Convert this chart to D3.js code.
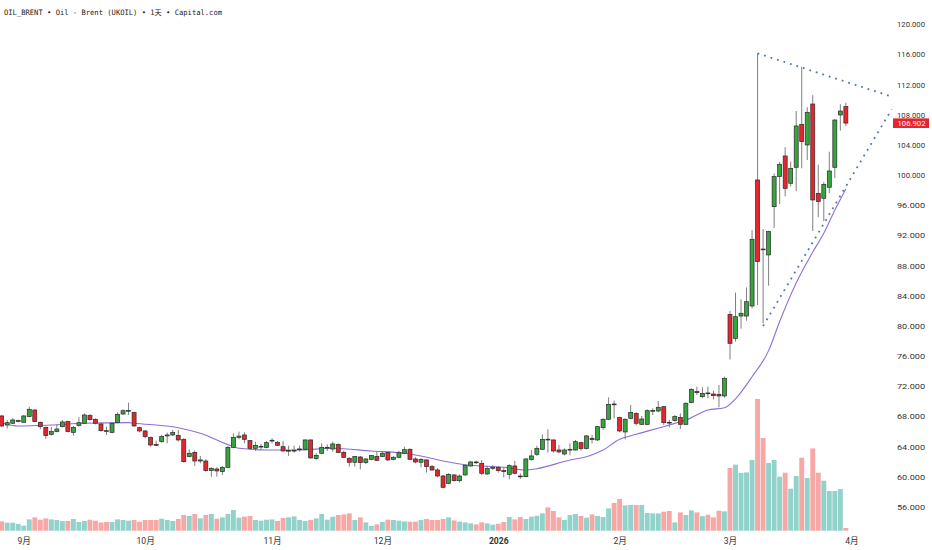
<!DOCTYPE html>
<html>
<head>
<meta charset="utf-8">
<script src="https://cdn.jsdelivr.net/npm/d3@7"></script>
<style>
  html, body { margin: 0; padding: 0; background: #fff; }
  svg { display: block; }
  .axis text { font-family: Roboto, "Noto Sans", sans-serif; fill: #333; }
  .axis path, .axis line { display: none; }
</style>
</head>
<body>
<div id="plot"></div>
<script>
// daily bars, Aug 26 2025 .. Mar 31 2026
const opens = [68.07,66.87,67.10,67.32,67.23,67.98,68.86,67.23,66.56,65.64,65.99,66.65,67.32,65.90,66.83,67.10,68.16,67.63,67.01,66.12,
  65.90,67.18,68.33,68.77,68.51,66.52,66.08,65.24,64.31,64.67,65.42,65.55,65.50,64.98,62.68,63.25,62.10,62.10,60.82,61.04,
  60.69,61.26,63.91,65.24,65.55,64.80,63.78,64.00,63.91,64.80,64.58,64.00,63.47,63.47,63.65,63.65,64.89,62.41,63.12,63.87,
  63.69,64.27,63.25,62.46,61.93,62.63,61.88,62.32,62.72,62.68,63.21,62.32,62.59,63.12,63.65,62.37,61.93,62.24,61.35,60.91,
  60.11,59.14,60.25,59.49,60.25,61.44,61.97,61.79,60.38,61.20,61.22,60.82,60.33,61.44,60.11,60.02,62.32,62.99,63.65,64.99,
  64.89,63.56,63.03,63.62,63.56,64.53,63.74,65.11,64.89,66.52,67.63,69.66,67.85,65.95,67.76,68.42,66.96,66.96,68.77,68.73,
  69.30,67.23,67.45,67.89,66.96,69.84,71.30,70.63,71.12,70.98,70.94,70.72,81.54,78.36,81.32,81.32,82.65,99.36,90.20,89.42,
  95.82,99.80,102.54,98.92,101.04,106.74,104.00,109.43,97.59,96.93,98.39,101.04,107.98,109.08];
const highs = [68.20,67.54,67.76,67.60,68.20,69.30,68.95,67.32,66.65,66.65,66.96,67.54,67.45,66.74,67.89,68.42,68.29,67.76,67.18,66.65,
  67.23,68.55,68.95,69.84,68.64,66.65,66.21,65.33,64.80,65.55,65.86,66.21,66.21,65.11,63.65,63.47,62.77,62.32,61.26,61.26,
  61.44,64.09,65.77,65.99,65.90,64.89,64.66,64.36,64.75,65.11,64.75,64.75,64.13,64.13,64.13,64.97,64.95,63.12,64.44,64.31,
  64.66,64.44,63.47,62.59,62.77,62.77,62.46,62.90,63.30,63.43,63.34,62.77,63.47,64.00,63.78,62.59,62.46,62.32,61.57,61.13,
  60.25,60.47,60.33,60.33,61.66,62.10,62.15,62.23,61.48,61.57,61.44,61.26,61.66,62.10,60.47,62.46,63.56,64.13,65.64,66.30,
  64.97,64.22,63.78,64.44,64.89,64.66,65.55,65.55,66.74,67.76,70.54,70.10,67.98,67.76,69.53,68.55,68.07,68.95,69.08,70.06,
  69.39,67.54,68.20,68.42,69.88,71.74,71.96,71.87,71.96,71.42,72.17,73.28,81.98,84.42,83.54,85.12,92.73,116.15,92.86,92.60,
  100.20,101.75,103.70,101.80,108.50,114.38,109.00,110.60,101.40,99.10,103.10,107.40,109.40,109.60];
const lows = [66.60,66.43,67.01,67.20,67.20,67.89,67.23,66.30,65.02,65.46,65.90,66.56,65.90,65.46,66.65,67.01,67.49,66.96,65.99,65.55,
  65.77,67.10,68.20,68.20,66.65,65.90,65.11,64.00,64.09,64.53,64.44,65.42,64.67,61.88,62.59,61.44,61.79,60.69,60.02,60.02,
  60.25,61.13,63.78,64.97,64.44,63.56,63.43,63.56,63.78,64.44,64.09,63.34,62.77,63.21,63.34,63.47,62.41,62.24,63.03,63.43,
  63.34,63.12,62.50,61.35,61.35,61.00,61.70,62.19,62.10,62.59,62.10,62.19,62.46,62.99,62.24,61.79,61.26,60.56,60.78,59.94,
  58.48,59.05,59.36,59.23,60.16,61.35,61.70,60.25,60.25,60.91,60.56,59.94,59.67,60.33,59.72,59.94,62.14,62.77,63.56,63.21,
  63.21,63.12,62.85,62.90,63.47,63.47,63.65,64.44,64.75,66.21,67.54,67.76,65.90,64.97,67.63,66.79,66.88,66.88,68.20,68.55,
  66.88,66.56,67.32,66.34,66.88,69.75,70.85,70.41,70.41,70.27,69.21,70.50,75.55,77.92,79.64,80.69,82.34,82.78,80.35,85.34,
  93.00,96.18,97.20,98.50,97.90,100.90,102.00,92.60,94.40,93.90,97.60,99.60,105.90,106.50];
const closes = [66.74,67.18,67.54,67.45,68.07,68.95,67.32,66.65,65.46,65.99,66.34,67.27,65.99,66.56,67.18,68.20,67.58,67.10,66.12,66.10,
  67.10,68.29,68.77,68.80,66.74,66.08,65.33,64.22,64.18,65.33,65.55,65.86,64.89,62.01,63.12,62.10,62.24,60.82,61.13,60.78,
  61.26,63.91,65.24,65.40,64.97,63.78,64.18,64.05,64.53,64.85,64.18,63.43,63.50,63.52,63.70,64.89,62.50,62.85,63.91,63.91,
  64.36,63.21,62.59,61.93,62.68,61.88,62.37,62.81,62.19,63.12,62.24,62.59,63.21,63.60,62.32,61.97,62.32,61.35,60.91,60.11,
  58.61,60.33,59.49,60.11,61.53,61.97,61.92,60.47,61.13,61.24,60.82,60.69,61.48,60.47,60.07,62.37,62.77,63.78,64.97,64.97,
  63.43,63.30,63.56,63.65,64.66,63.74,65.42,64.93,66.65,67.63,69.61,69.62,66.08,67.63,68.55,67.10,67.67,68.77,68.80,69.22,
  67.18,67.20,67.98,66.96,69.75,71.60,71.16,71.07,71.07,70.76,70.72,73.06,77.70,81.23,81.68,83.22,91.49,88.53,90.15,92.51,
  99.80,101.44,98.25,100.90,106.52,104.44,108.33,96.71,96.49,98.78,100.55,107.31,108.50,106.902];
const volumes = [93,80,80,67,50,113,133,110,123,113,107,97,97,117,87,97,110,100,83,87,
  87,113,107,100,107,90,107,107,107,120,107,97,117,157,147,167,123,157,167,120,
  133,167,207,130,140,147,107,100,110,113,97,127,133,143,107,97,107,123,167,110,
  140,157,163,173,107,133,83,47,63,87,110,107,100,93,90,90,107,117,107,107,
  117,133,103,90,83,73,63,83,73,60,70,87,137,113,137,117,140,150,173,233,
  197,133,107,157,167,147,130,163,147,137,223,277,317,253,257,257,257,177,173,173,
  190,197,83,183,157,203,183,145,160,133,200,193,627,660,577,583,707,1317,927,677,
  707,540,580,420,547,730,527,823,580,500,397,397,417,27];

// moving average line, sampled off the chart (bar number, value)
const maBars = [1,4,10,16,24,25,33,37,43,44,49,55,61,68,74,77,81,85,92,96,98,104,107,110,113,116,122,125,129,132,134,137,140,142,145,148,150,152,154];
const maValues = [67.18,66.74,66.87,67.10,67.18,67.10,66.51,65.77,64.00,63.78,63.56,63.56,63.78,63.42,63.12,62.76,62.10,61.61,61.26,60.90,61.08,62.23,62.67,63.56,64.98,65.64,66.87,67.53,68.86,69.17,70.35,73.27,76.73,80.60,85.70,89.80,92.29,95.36,98.17];

// triangle trend lines (bar number, price)
const upperBars = [138, 162.0];
const upperPrices = [116.15, 110.49];
const lowerBars = [139, 162.3];
const lowerPrices = [80.0, 108.73];

// axis labels
const priceTicks = [56,60,64,68,72,76,80,84,88,92,96,100,104,108,112,116,120];
const monthBars = [5,27,50,70,91,113,133,155];
const monthLabels = ["9月","10月","11月","12月","2026","2月","3月","4月"];
const lastPrice = 106.902;
const title = "OIL_BRENT \u2022 Oil - Brent (UKOIL) \u2022 1\u5929 \u2022 Capital.com";

const W = 932, H = 550;
const upCol = "#36a43f", downCol = "#e4262d", edgeCol = "#2b2b2b", wickCol = "#7f7f7f";

const bars = opens.map((o, i) => ({
  i: i + 1, o: o, h: highs[i], l: lows[i], c: closes[i], v: volumes[i]
}));

const svg = d3.select("#plot").append("svg").attr("width", W).attr("height", H);

const x = d3.scaleLinear().domain([0.697, 162.0]).range([0, 890]);
const y = d3.scaleLinear().domain([52.95, 123.22]).range([530, 0]);
const yv = d3.scaleLinear().domain([0, 1400]).range([530.7, 390.7]);

// volume
svg.append("g")
  .selectAll("rect")
  .data(bars)
  .join("rect")
  .attr("x", (d) => x(d.i) - 2.45)
  .attr("y", (d) => yv(d.v))
  .attr("width", 4.9)
  .attr("height", (d) => yv(0) - yv(d.v))
  .attr("fill", (d) => (d.c >= d.o ? "#91d2cb" : "#f6a8a6"));

// moving average
const ma = maBars.map((b, i) => [b, maValues[i]]);
svg.append("path")
  .datum(ma)
  .attr("fill", "none")
  .attr("stroke", "#8f6fd6")
  .attr("stroke-width", 1.1)
  .attr("d", d3.line().x((d) => x(d[0])).y((d) => y(d[1])).curve(d3.curveMonotoneX));

// candles
const candles = svg.append("g").selectAll("g").data(bars).join("g");
candles.append("line")
  .attr("x1", (d) => x(d.i)).attr("x2", (d) => x(d.i))
  .attr("y1", (d) => y(d.h)).attr("y2", (d) => y(d.l))
  .attr("stroke", wickCol).attr("stroke-width", 1);
candles.append("rect")
  .attr("x", (d) => x(d.i) - 2)
  .attr("y", (d) => y(Math.max(d.o, d.c)))
  .attr("width", 4)
  .attr("height", (d) => Math.max(0.8, Math.abs(y(d.o) - y(d.c))))
  .attr("fill", (d) => (d.c >= d.o ? upCol : downCol))
  .attr("stroke", edgeCol)
  .attr("stroke-width", 0.7);

// dotted triangle
[[upperBars, upperPrices], [lowerBars, lowerPrices]].forEach(([bs, ps]) => {
  svg.append("line")
    .attr("x1", x(bs[0])).attr("y1", y(ps[0]))
    .attr("x2", x(bs[1])).attr("y2", y(ps[1]))
    .attr("stroke", "#4d73c2")
    .attr("stroke-width", 1.8)
    .attr("stroke-dasharray", "1.8,5");
});

// price axis
const yAxis = svg.append("g")
  .attr("class", "axis")
  .attr("transform", "translate(897,0)")
  .call(d3.axisRight(y).tickValues(priceTicks).tickFormat(d3.format(".3f")).tickSize(0).tickPadding(0));
yAxis.selectAll("text")
  .style("font-size", "7.8px")
  .attr("textLength", 28)
  .attr("lengthAdjust", "spacingAndGlyphs");

// last price tag
svg.append("rect")
  .attr("x", 893).attr("y", y(lastPrice) - 4.7)
  .attr("width", 36).attr("height", 9.6)
  .attr("fill", "#e3262d");
svg.append("text")
  .attr("x", 897.5).attr("y", y(lastPrice))
  .attr("dy", "0.34em")
  .attr("fill", "#fff")
  .style("font-family", "Roboto, sans-serif")
  .style("font-size", "7.8px")
  .attr("textLength", 28)
  .attr("lengthAdjust", "spacingAndGlyphs")
  .text(d3.format(".3f")(lastPrice));

// month axis
const xAxis = svg.append("g")
  .attr("class", "axis")
  .attr("transform", "translate(0,538)")
  .call(d3.axisBottom(x).tickValues(monthBars).tickFormat((d, i) => monthLabels[i]).tickSize(0).tickPadding(0));
xAxis.selectAll("text")
  .style("font-size", "8.6px")
  .style("font-family", "Roboto, 'Noto Sans CJK SC', sans-serif")
  .style("font-weight", (d, i) => (monthLabels[i] === "2026" ? "bold" : "normal"));

// header
svg.append("text")
  .attr("x", 4).attr("y", 15)
  .attr("fill", "#222")
  .style("font-family", "'DejaVu Sans Mono', 'Noto Sans CJK SC', monospace")
  .style("font-size", "7.4px")
  .attr("textLength", 218)
  .attr("lengthAdjust", "spacingAndGlyphs")
  .text(title);
</script>
</body>
</html>
